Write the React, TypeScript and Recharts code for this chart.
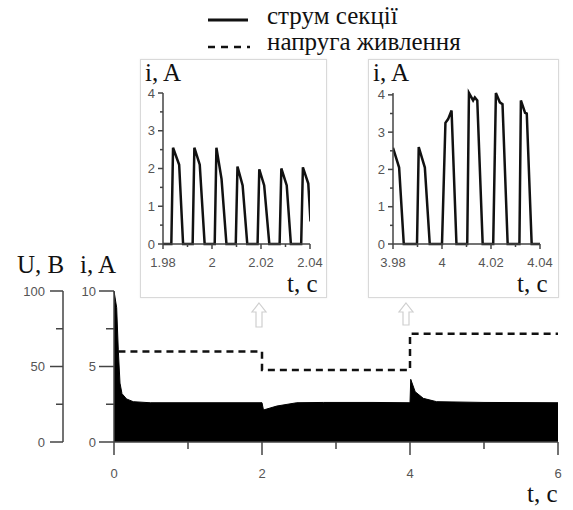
import React from 'react';
import { ComposedChart, LineChart, Line, Area, XAxis, YAxis } from 'recharts';

// main plot: upper envelope of the section current (A), supply voltage (V)
const mainTime = [0, 0.036, 0.058, 0.081, 0.108, 0.17, 0.26, 0.49, 1.0, 1.5, 2.0, 2.02, 2.2, 2.47, 2.83, 3.5, 4.0, 4.01, 4.07, 4.18, 4.36, 5.0, 6.0];
const mainCurrent = [10, 8.9, 6.1, 3.9, 3.2, 2.85, 2.67, 2.6, 2.6, 2.6, 2.6, 2.12, 2.38, 2.6, 2.62, 2.62, 2.6, 4.15, 3.33, 2.89, 2.67, 2.62, 2.6];
const voltTime = [0.06, 2, 2, 4, 4, 6];
const voltage = [60, 60, 47.7, 47.7, 71.7, 71.7];

// inset 1: 1.98 .. 2.04 s
const inset1Time = [1.98, 1.9834, 1.9841, 1.9866, 1.9882, 1.9921, 1.9928, 1.995, 1.997, 2.0011, 2.0018, 2.0039, 2.0059, 2.0097, 2.0104, 2.0125, 2.0144, 2.0186, 2.0193, 2.0213, 2.0234, 2.0276, 2.0283, 2.0305, 2.0322, 2.0364, 2.0371, 2.0393, 2.0402];
const inset1Current = [0, 0, 2.55, 2.1, 0, 0, 2.55, 2.1, 0, 0, 2.55, 1.72, 0, 0, 2.05, 1.55, 0, 0, 1.98, 1.55, 0, 0, 2.0, 1.55, 0, 0, 2.03, 1.6, 0.6];

// inset 2: 3.98 .. 4.04 s
const inset2Time = [3.98, 3.9825, 3.9844, 3.9898, 3.9905, 3.993, 3.995, 4.0, 4.0014, 4.0025, 4.0039, 4.0059, 4.0103, 4.011, 4.0127, 4.0134, 4.0144, 4.0166, 4.0209, 4.022, 4.0236, 4.0247, 4.0268, 4.0316, 4.0322, 4.0339, 4.0346, 4.0366, 4.04];
const inset2Current = [2.58, 2.05, 0, 0, 2.6, 2.05, 0, 0, 3.25, 3.35, 3.58, 0, 0, 4.05, 3.85, 3.93, 3.85, 0, 0, 4.05, 3.8, 3.75, 0, 0, 3.85, 3.52, 3.5, 0, 0];

const mainXTicks = [0, 1, 2, 3, 4, 5, 6];
const mainXMajor = [0, 2, 4, 6];
const iTicks = [0, 2.5, 5, 7.5, 10];
const iMajor = [0, 5, 10];
const uTicks = [0, 25, 50, 75, 100];
const uMajor = [0, 50, 100];
const insetYTicks = [0, 0.5, 1, 1.5, 2, 2.5, 3, 3.5, 4];
const insetYMajor = [0, 1, 2, 3, 4];
const inset1XTicks = [1.98, 1.99, 2, 2.01, 2.02, 2.03, 2.04];
const inset1XMajor = [1.98, 2, 2.02, 2.04];
const inset2XTicks = [3.98, 3.99, 4, 4.01, 4.02, 4.03, 4.04];
const inset2XMajor = [3.98, 4, 4.02, 4.04];

const mainData = mainTime.map((t, k) => ({ t, i: mainCurrent[k] }));
const voltData = voltTime.map((t, k) => ({ t, u: voltage[k] }));
const inset1Data = inset1Time.map((t, k) => ({ t, i: inset1Current[k] }));
const inset2Data = inset2Time.map((t, k) => ({ t, i: inset2Current[k] }));

const AXIS = '#444';
const TICK_TEXT = '#555';
const SANS = 'Liberation Sans';
const SERIF = 'Liberation Serif';

// html label placed by its baseline (Liberation Serif, 25px, line-height 1)
function SerifLabel({ x, y, children }: any) {
  return (
    <div
      style={{
        position: 'absolute',
        left: x,
        top: y - 21,
        fontFamily: SERIF,
        fontSize: 25,
        lineHeight: 1,
        color: '#111',
        whiteSpace: 'nowrap',
      }}
    >
      {children}
    </div>
  );
}

function makeTick(side: 'left' | 'bottom', majors: number[], majorLen: number, minorLen: number, gap: number, fontSize: number) {
  return (props: any) => {
    const { x, y, payload } = props;
    const v = payload.value;
    const isMajor = majors.some((m) => Math.abs(m - v) < 1e-9);
    const len = isMajor ? majorLen : minorLen;
    if (side === 'left') {
      return (
        <g>
          <line x1={x - len} x2={x} y1={y} y2={y} stroke={AXIS} strokeWidth={1.5} />
          {isMajor && (
            <text x={x - gap} y={y} textAnchor="end" dominantBaseline="central" fontFamily={SANS} fontSize={fontSize} fill={TICK_TEXT}>
              {v}
            </text>
          )}
        </g>
      );
    }
    return (
      <g>
        <line x1={x} x2={x} y1={y} y2={y + len} stroke={AXIS} strokeWidth={1.5} />
        {isMajor && (
          <text x={x} y={y + gap} textAnchor="middle" dominantBaseline="central" fontFamily={SANS} fontSize={fontSize} fill={TICK_TEXT}>
            {v}
          </text>
        )}
      </g>
    );
  };
}

function Inset({ left, width, data, xTicks, xMajor, marginLeft, marginRight }: any) {
  return (
    <div
      style={{
        position: 'absolute',
        left,
        top: 59,
        width,
        height: 239,
        boxSizing: 'border-box',
        border: '1px solid #d9d9d9',
        boxShadow: '0 0 2px rgba(0,0,0,0.08)',
        background: '#fff',
      }}
    >
      <LineChart width={width - 2} height={237} margin={{ top: 33, right: marginRight, bottom: 23, left: 0 }}>
        <XAxis
          dataKey="t"
          type="number"
          domain={[xTicks[0], xTicks[xTicks.length - 1]]}
          ticks={xTicks}
          allowDataOverflow
          height={30}
          stroke={AXIS}
          strokeWidth={1.5}
          tickLine={false}
          tickSize={0}
          tickMargin={0}
          interval={0}
          tick={makeTick('bottom', xMajor, 5, 3, 18, 13)}
        />
        <YAxis
          dataKey="i"
          type="number"
          domain={[0, 4]}
          ticks={insetYTicks}
          width={marginLeft}
          stroke={AXIS}
          strokeWidth={1.5}
          tickLine={false}
          tickSize={0}
          tickMargin={0}
          interval={0}
          tick={makeTick('left', insetYMajor, 5, 3, 8, 13)}
        />
        <Line data={data} dataKey="i" type="linear" stroke="#111" strokeWidth={2.5} dot={false} isAnimationActive={false} />
      </LineChart>
    </div>
  );
}

function arrowPath(cx: number, top: number, bottom: number) {
  const hw = 7;
  const sw = 3;
  const hh = 9;
  return `M${cx},${top} L${cx + hw},${top + hh} L${cx + sw},${top + hh} L${cx + sw},${bottom} L${cx - sw},${bottom} L${cx - sw},${top + hh} L${cx - hw},${top + hh} Z`;
}

export default function App() {
  return (
    <div style={{ position: 'absolute', left: 0, top: 0, width: 573, height: 510, background: '#fff' }}>
      <div style={{ position: 'absolute', left: 0, top: 0 }}>
        <ComposedChart width={573} height={510} margin={{ top: 291, right: 15, bottom: 38, left: 0 }}>
          <XAxis
            dataKey="t"
            type="number"
            domain={[0, 6]}
            ticks={mainXTicks}
            height={30}
            stroke={AXIS}
            strokeWidth={1.5}
            tickLine={false}
            tickSize={0}
            tickMargin={0}
            interval={0}
            tick={makeTick('bottom', mainXMajor, 13, 7, 31, 13)}
          />
          <YAxis
            yAxisId="i"
            type="number"
            domain={[0, 10]}
            ticks={iTicks}
            width={51}
            stroke={AXIS}
            strokeWidth={1.5}
            tickLine={false}
            tickSize={0}
            tickMargin={0}
            interval={0}
            tick={makeTick('left', iMajor, 15, 8, 18, 13)}
          />
          <YAxis
            yAxisId="u"
            type="number"
            domain={[0, 100]}
            ticks={uTicks}
            width={63}
            stroke={AXIS}
            strokeWidth={1.5}
            tickLine={false}
            tickSize={0}
            tickMargin={0}
            interval={0}
            tick={makeTick('left', uMajor, 13, 7, 18, 13)}
          />
          <Area
            yAxisId="i"
            data={mainData}
            dataKey="i"
            type="linear"
            baseValue={0}
            stroke="#000"
            strokeWidth={1}
            fill="#000"
            fillOpacity={1}
            isAnimationActive={false}
          />
          <Line
            yAxisId="u"
            data={voltData}
            dataKey="u"
            type="linear"
            stroke="#111"
            strokeWidth={2.5}
            strokeDasharray="7 5"
            dot={false}
            isAnimationActive={false}
          />
        </ComposedChart>
      </div>

      <Inset left={140} width={187} data={inset1Data} xTicks={inset1XTicks} xMajor={inset1XMajor} marginLeft={22} marginRight={16} />
      <Inset left={368} width={191} data={inset2Data} xTicks={inset2XTicks} xMajor={inset2XMajor} marginLeft={24} marginRight={18} />

      <svg width={573} height={510} style={{ position: 'absolute', left: 0, top: 0, pointerEvents: 'none' }}>
        {/* legend samples */}
        <line x1={208} x2={248} y1={20} y2={20} stroke="#111" strokeWidth={3} />
        <line x1={208} x2={250} y1={47} y2={47} stroke="#111" strokeWidth={2.5} strokeDasharray="7 6" />
        {/* pointers from the main plot to the insets */}
        <path d={arrowPath(259, 303, 327)} fill="#fff" stroke="#cfcfcf" strokeWidth={1.2} />
        <path d={arrowPath(406, 303, 325)} fill="#fff" stroke="#cfcfcf" strokeWidth={1.2} />
      </svg>

      <SerifLabel x={267} y={24}>струм секції</SerifLabel>
      <SerifLabel x={267} y={50}>напруга живлення</SerifLabel>
      <SerifLabel x={17} y={273}>U, B</SerifLabel>
      <SerifLabel x={80} y={273}>i, A</SerifLabel>
      <SerifLabel x={527} y={502}>t, c</SerifLabel>
      <SerifLabel x={145} y={81}>i, A</SerifLabel>
      <SerifLabel x={287} y={292}>t, c</SerifLabel>
      <SerifLabel x={373} y={81}>i, A</SerifLabel>
      <SerifLabel x={517} y={292}>t, c</SerifLabel>
    </div>
  );
}
